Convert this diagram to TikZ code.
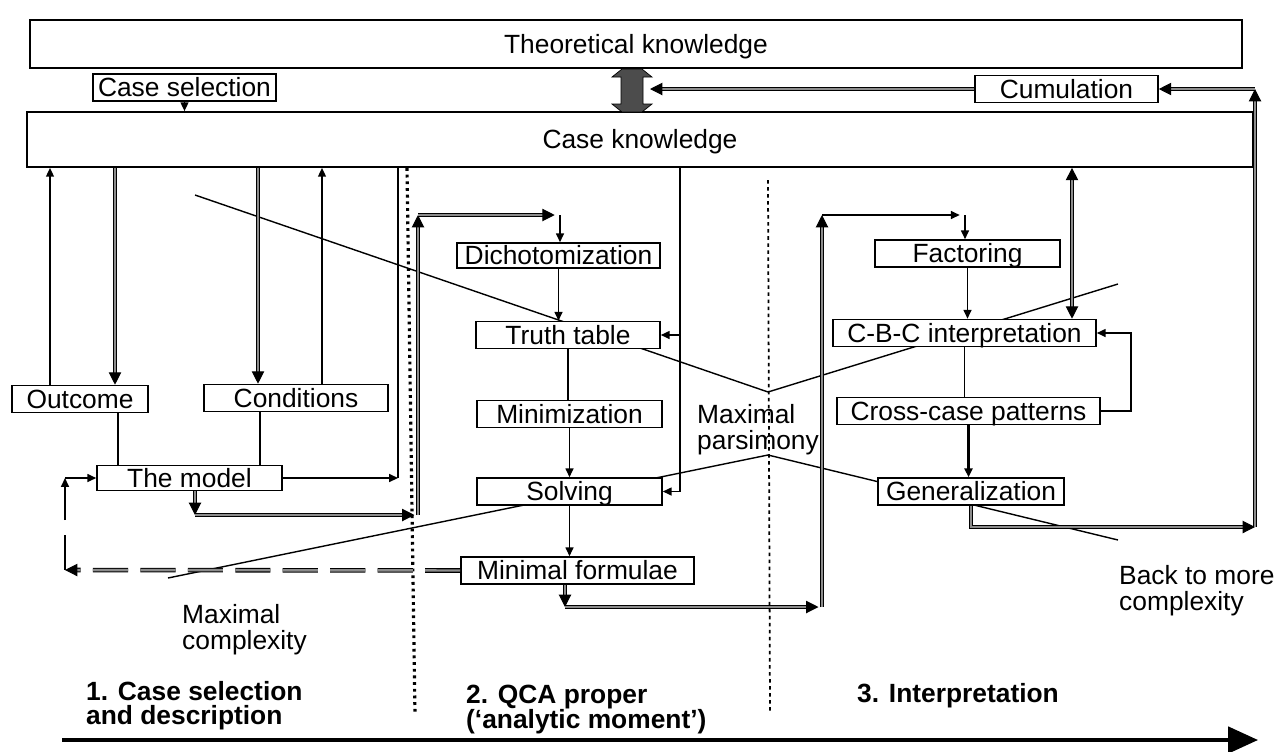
\documentclass[tikz,border=0pt]{standalone}
\usepackage{fontspec}
\setmainfont{Liberation Sans}
\usetikzlibrary{arrows.meta}
\begin{document}
\begin{tikzpicture}[x=0.2mm,y=-0.2mm,font=\fontsize{15}{15}\selectfont,
  >={Triangle[length=7pt,width=7pt]},
  box/.style={draw,line width=0.9pt,fill=white,inner sep=0pt,minimum height=5.4mm,text height=11pt,text depth=0.5pt},
  big/.style={draw,line width=1pt,fill=white,inner sep=0pt,text height=11pt,text depth=0.5pt},
  tip/.style={thick,-{Triangle[length=5pt,width=4.5pt]}},
  dline/.style={line width=0.6pt,double=black!45,double distance=1.4pt},
  dashdbl/.style={dline,dash pattern=on 20pt off 7pt},
  phase/.style={line width=1.8pt,dash pattern=on 1.6pt off 2.2pt}]
\useasboundingbox (0,0) rectangle (1277,751);
\draw[thick] (195,195) -- (768,392) -- (1118,284);
\draw[thick] (168,578) -- (768,455) -- (1118,540);
\draw[phase] (407,168) -- (415,715);
\draw[line width=1pt,dash pattern=on 2pt off 2pt] (768,180) -- (770,712);
\node[big,minimum width=242.4mm,minimum height=9.6mm] (theo) at (636,44) {Theoretical knowledge};
\node[box,minimum width=36.6mm] (csel) at (184.5,87.5) {Case selection};
\node[box,minimum width=36.6mm] (cum) at (1066.5,89) {Cumulation};
\node[big,minimum width=245.2mm,minimum height=11mm] (caseK) at (640,139.5) {Case knowledge};
% two-way exchange between the two kinds of knowledge
\fill[black!70,draw=black] (622,69) -- (642,69) -- (652,77) -- (643,77) -- (643,104) -- (652,104)
  -- (642,112) -- (622,112) -- (612,104) -- (621,104) -- (621,77) -- (612,77) -- cycle;
\coordinate (ka) at (650,89);
\node[box,minimum width=27.2mm] (outc) at (80,399) {Outcome};
\node[box,minimum width=36.8mm] (cond) at (296,398) {Conditions};
\node[box,minimum width=37mm,minimum height=5mm] (model) at (189.5,478) {The model};
\node[box,minimum width=40.6mm,minimum height=5mm] (dich) at (558.5,255.5) {Dichotomization};
\node[box,minimum width=36.8mm] (truth) at (568,335) {Truth table};
\node[box,minimum width=37mm] (minim) at (569.5,414) {Minimization};
\node[box,minimum width=37mm] (solv) at (569.5,491.5) {Solving};
\node[box,minimum width=46.6mm] (minf) at (577.5,570.5) {Minimal formulae};
\node[box,minimum width=37mm] (fact) at (967.5,253.5) {Factoring};
\node[box,minimum width=52.6mm] (cbc) at (964.5,333) {C-B-C interpretation};
\node[box,minimum width=52.6mm] (cross) at (968.5,411) {Cross-case patterns};
\node[box,minimum width=37.2mm] (gen) at (971,491.5) {Generalization};
\node[align=left,anchor=north west] (maxc) at (176,598) {Maximal\\complexity};
\node[align=left,anchor=north west] (maxp) at (691,398) {Maximal\\parsimony};
\node[align=left,anchor=north west] (back) at (1113,559) {Back to more\\complexity};
\node[align=left,anchor=north west,font=\fontsize{15}{14}\bfseries] (ph1) at (80,675) {1. Case selection\\and description};
\node[align=left,anchor=north west,font=\fontsize{15}{14}\bfseries] (ph2) at (460,679) {2. QCA proper\\(‘analytic moment’)};
\node[align=left,anchor=north west,font=\fontsize{15}{14}\bfseries] (ph3) at (851,677) {3. Interpretation};
\draw[tip] (csel.south) -- (csel.south |- caseK.north);
\draw[dline,->] (cum.west) -- (ka);
\coordinate (rt) at (1255,527);
\draw[dline,->] (gen.south) |- (rt);
\draw[dline,->] (rt) -- (rt |- cum.east);
\draw[dline,->] (rt |- cum.east) -- (cum.east);
\draw[dline,<->] (caseK.south -| 1072,0) -- (cbc.north -| 1072,0);
\draw[tip] (outc.north -| 50,0) -- (caseK.south -| 50,0);
\draw[dline,->] (caseK.south -| 115,0) -- (outc.north -| 115,0);
\draw[dline,->] (caseK.south -| 258,0) -- (cond.north -| 258,0);
\draw[tip] (cond.north -| 322,0) -- (caseK.south -| 322,0);
\draw[line width=1.4pt] (outc.south -| 118,0) -- (model.north -| 118,0);
\draw[line width=1.4pt] (cond.south -| 260,0) -- (model.north -| 260,0);
\draw[line width=1.4pt] (caseK.south -| 398,0) -- (model.east -| 398,0);
\draw[tip] (model.east) -- (model.east -| 398,0);
\coordinate (m1) at (195,515); \coordinate (m2) at (418,515);
\coordinate (m3) at (418,215); \coordinate (m4) at (560,215);
\draw[dline,->] (model.south -| m1) -- (m1);
\draw[dline,->,shorten >=2pt] (m1) -- (m2);
\draw[dline,->] (m2) -- (m3);
\draw[dline,->,shorten >=3pt] (m3) -- (m4);
\draw[tip] (m4) -- (dich.north -| m4);
\coordinate (l1) at (65,570); \coordinate (l2) at (65,478);
\draw[dashdbl,->] (minf.west) -- (l1);
\draw[thick] (l1) -- ++(0,-35);
\draw[tip] (65,520) -- (l2);
\draw[tip] (l2) -- (model.west);
\draw[tip] (dich.south) -- (dich.south |- truth.north);
\draw[line width=1.4pt] (truth.south) -- (truth.south |- minim.north);
\draw[tip] (minim.south) -- (minim.south |- solv.north);
\draw[tip] (solv.south) -- (solv.south |- minf.north);
\draw[thick] (caseK.south -| 680,0) -- (solv.east -| 680,0);
\draw[tip] (truth.east -| 680,0) -- (truth.east);
\draw[tip] (solv.east -| 680,0) -- (solv.east);
\coordinate (f1) at (565,607); \coordinate (f2) at (822,607);
\coordinate (f3) at (822,215); \coordinate (f4) at (965,215);
\draw[dline,->] (minf.south -| f1) -- (f1);
\draw[dline,->,shorten >=2pt] (f1) -- (f2);
\draw[dline,->] (f2) -- (f3);
\draw[tip,shorten >=3pt] (f3) -- (f4);
\draw[tip] (f4) -- (fact.north -| f4);
\draw[tip] (fact.south) -- (fact.south |- cbc.north);
\draw[thick] (cbc.south) -- (cbc.south |- cross.north);
\draw[tip,line width=1.4pt] (cross.south) -- (cross.south |- gen.north);
\draw[tip] (cross.east) -- ++(30,0) |- (cbc.east);
\coordinate (ba) at (62,740); \coordinate (bb) at (1258,740);
\draw[line width=2pt,-{Triangle[length=17pt,width=15pt]}] (ba) -- (bb);
\end{tikzpicture}
\end{document}
